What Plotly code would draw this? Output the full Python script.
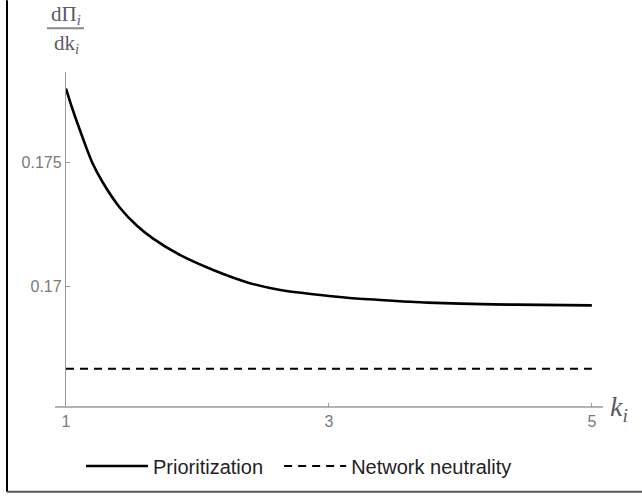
import plotly.graph_objects as go

# ---- data ----
k_prior = [1.0, 1.04, 1.08, 1.155, 1.2, 1.28, 1.41, 1.54, 1.66, 1.87, 2.12, 2.38, 2.63, 2.88,
           3.14, 3.39, 3.75, 4.25, 4.6, 5.0]
d_prior = [0.1780, 0.17732, 0.17670, 0.17560, 0.1750, 0.17420, 0.17318, 0.17245, 0.17194, 0.17126,
           0.17066, 0.17016, 0.16985, 0.16968, 0.16954, 0.16945, 0.16934, 0.16927, 0.16925, 0.16923]
k_neutral = [1.0, 5.0]
d_neutral = [0.16667, 0.16667]

x_ticks = [1, 3, 5]
x_tick_text = ["1", "3", "5"]
y_ticks = [0.17, 0.175]
y_tick_text = ["0.17", "0.175"]

W, H = 642, 496
L, R, T, B = 66, 39, 72, 88
PW, PH = W - L - R, H - T - B


def px(xp):
    return (xp - L) / PW


def py(yp):
    return (H - B - yp) / PH


AX = "#9a9a9a"
TXT = "#7a7a7a"

fig = go.Figure()
fig.add_trace(go.Scatter(
    x=k_prior, y=d_prior, mode="lines", name="Prioritization\u00a0\u00a0",
    line=dict(color="black", width=2.6, shape="spline", smoothing=0.6),
    cliponaxis=False,
))
fig.add_trace(go.Scatter(
    x=k_neutral, y=d_neutral, mode="lines", name="Network neutrality",
    line=dict(color="black", width=2, dash="8px,6px"),
    cliponaxis=False,
))

fig.update_layout(
    width=W, height=H,
    margin=dict(l=L, r=R, t=T, b=B, pad=0),
    paper_bgcolor="white", plot_bgcolor="white",
    font=dict(family="Liberation Sans, Arial, sans-serif"),
    showlegend=True,
    legend=dict(
        orientation="h", x=px(299), y=py(466), xanchor="center", yanchor="middle",
        font=dict(size=20, color="#222222"), bgcolor="rgba(0,0,0,0)",
        itemwidth=62,
    ),
    xaxis=dict(
        range=[1, 5.085], showgrid=False, zeroline=False, showline=False,
        tickmode="array", tickvals=x_ticks, ticktext=x_tick_text,
        ticks="inside", ticklen=4, tickwidth=1, tickcolor=AX,
        tickfont=dict(size=16, color=TXT), ticklabelstandoff=3,
    ),
    yaxis=dict(
        range=[0.16512, 0.17867], showgrid=False, zeroline=False,
        showline=True, linecolor=AX, linewidth=1.3,
        tickmode="array", tickvals=y_ticks, ticktext=y_tick_text,
        ticks="inside", ticklen=4, tickwidth=1, tickcolor=AX,
        tickfont=dict(size=16, color=TXT), ticklabelstandoff=0,
    ),
)

shapes = [
    # x axis line (extends a little left of the y axis)
    dict(type="line", xref="paper", yref="paper", x0=px(55), x1=1, y0=0, y1=0,
         line=dict(color=AX, width=1.3)),
    # fraction bar of the y-axis label
    dict(type="line", xref="paper", yref="paper", x0=px(47), x1=px(84), y0=py(28), y1=py(28),
         line=dict(color="#888888", width=2)),
    # outer frame pieces (left and bottom)
    dict(type="line", xref="paper", yref="paper", x0=px(7), x1=px(7), y0=py(0), y1=py(493),
         line=dict(color="black", width=2)),
    dict(type="line", xref="paper", yref="paper", x0=px(7), x1=px(642), y0=py(493), y1=py(493),
         line=dict(color="#555555", width=2)),
]
fig.update_layout(shapes=shapes)

serif = "Liberation Serif, Times New Roman, serif"
fig.add_annotation(xref="paper", yref="paper", x=px(66), y=py(15), xanchor="center", yanchor="middle",
                   text="dΠ<sub><i>i</i></sub>", showarrow=False,
                   font=dict(family=serif, size=21, color="#5a5a6a"))
fig.add_annotation(xref="paper", yref="paper", x=px(66), y=py(44), xanchor="center", yanchor="middle",
                   text="dk<sub><i>i</i></sub>", showarrow=False,
                   font=dict(family=serif, size=21, color="#5a5a6a"))
fig.add_annotation(xref="paper", yref="paper", x=px(608), y=py(410), xanchor="left", yanchor="middle",
                   text="<i>k<sub>i</sub></i>", showarrow=False,
                   font=dict(family=serif, size=28, color="#5a5a6a"))

fig.write_html("out.html", config={"displayModeBar": False},
               post_script="document.body.style.margin='0px';")
